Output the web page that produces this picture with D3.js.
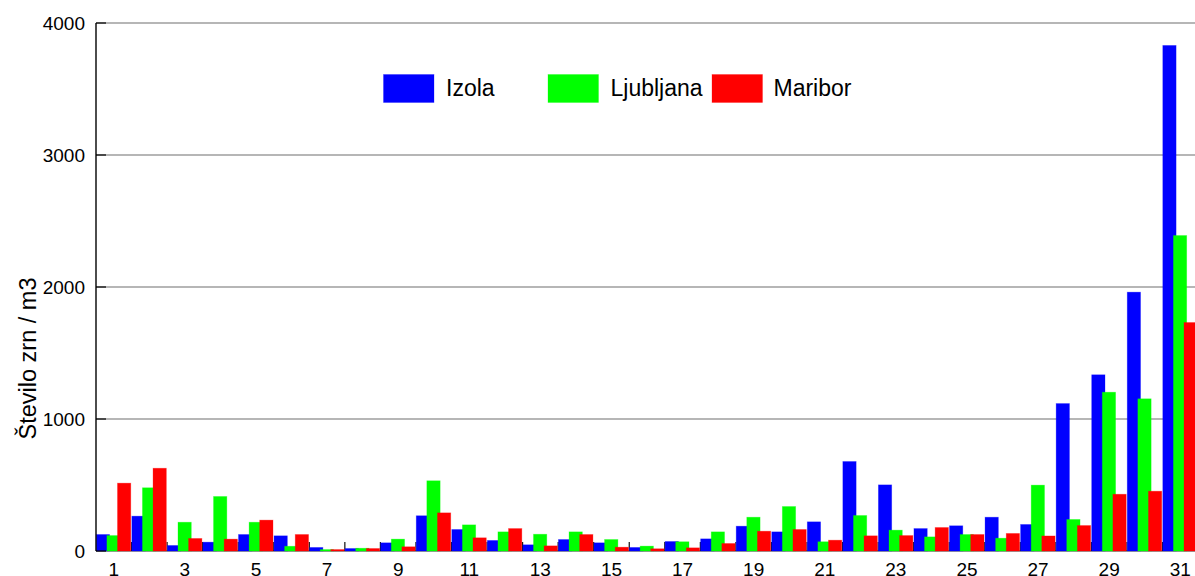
<!DOCTYPE html>
<html>
<head>
<meta charset="utf-8">
<script src="https://cdn.jsdelivr.net/npm/d3@7"></script>
<style>
  html, body { margin: 0; padding: 0; background: #fff; overflow: hidden; }
  svg { display: block; font-family: "Liberation Sans", Arial, sans-serif; }
</style>
</head>
<body>
<svg id="chart" width="1195" height="576"></svg>
<script>
const days = d3.range(1, 32);
const seriesNames = ["Izola", "Ljubljana", "Maribor"];
const seriesColors = ["#0000ff", "#00ff00", "#ff0000"];
const izola = [125, 264, 42, 67, 125, 115, 27, 19, 62, 267, 163, 80, 47, 87, 62, 27, 72, 92, 188, 145, 221, 678, 501, 170, 191, 256, 201, 1117, 1335, 1961, 3830];
const ljubljana = [117, 479, 218, 413, 218, 36, 11, 21, 90, 532, 198, 145, 127, 145, 87, 37, 70, 145, 256, 337, 70, 269, 158, 107, 125, 97, 499, 239, 1203, 1153, 2390];
const maribor = [514, 627, 95, 90, 234, 125, 11, 19, 32, 289, 100, 170, 39, 125, 29, 17, 24, 57, 150, 163, 82, 115, 117, 178, 125, 133, 114, 193, 430, 453, 1731];
const yTicks = [0, 1000, 2000, 3000, 4000];
const xTickLabels = days.filter(d => d % 2 === 1);
const yLabel = "Število zrn / m3";

const series = [izola, ljubljana, maribor];

const svg = d3.select("#chart");
const mLeft = 96, mTop = 23, mBottom = 551;
const slot = 35.55;
const mRight = mLeft + slot * days.length;

const x = d3.scaleBand().domain(days).range([mLeft, mRight]).padding(0);
const y = d3.scaleLinear().domain([0, 4000]).range([mBottom, mTop]);

// gridlines
svg.append("g").selectAll("line").data(yTicks.filter(t => t > 0)).join("line")
  .attr("x1", mLeft).attr("x2", 1195)
  .attr("y1", d => y(d)).attr("y2", d => y(d))
  .attr("stroke", "#6e6e6e").attr("stroke-width", 1.2);

// x baseline + ticks (behind bars)
const xAxisG = svg.append("g").attr("transform", `translate(0,${mBottom})`);
xAxisG.append("line").attr("x1", mLeft).attr("x2", 1195).attr("y1", 0).attr("y2", 0)
  .attr("stroke", "#333").attr("stroke-width", 1.2);
xAxisG.selectAll("line.tk").data(days.slice(1)).join("line").attr("class", "tk")
  .attr("x1", d => x(d)).attr("x2", d => x(d))
  .attr("y1", 0).attr("y2", -9)
  .attr("stroke", "#111").attr("stroke-width", 1.2);

// bars
const bw = x.bandwidth();
const step = bw * 0.298, barW = bw * 0.374;
const groups = svg.append("g").selectAll("g").data(days).join("g");
seriesNames.forEach((name, si) => {
  groups.append("rect")
    .attr("x", (d, i) => x(d) + 0.3 + si * step)
    .attr("width", barW)
    .attr("y", (d, i) => y(series[si][i]))
    .attr("height", (d, i) => mBottom - y(series[si][i]))
    .attr("fill", seriesColors[si])
    .attr("stroke", seriesColors[si]).attr("stroke-opacity", 0.35).attr("stroke-width", 0.8);
});

// y axis
svg.append("line").attr("x1", mLeft).attr("x2", mLeft).attr("y1", mTop).attr("y2", mBottom)
  .attr("stroke", "#000").attr("stroke-width", 1.4);
const yAxisG = svg.append("g");
yAxisG.selectAll("line").data(yTicks).join("line")
  .attr("x1", mLeft).attr("x2", mLeft + 10)
  .attr("y1", d => y(d)).attr("y2", d => y(d))
  .attr("stroke", "#000").attr("stroke-width", 1.2);
yAxisG.selectAll("text").data(yTicks).join("text")
  .attr("x", 85).attr("y", d => y(d)).attr("dy", "0.36em")
  .attr("text-anchor", "end").attr("font-size", 19).attr("fill", "#000")
  .text(d => d);

// x tick labels
svg.append("g").selectAll("text").data(xTickLabels).join("text")
  .attr("x", d => x(d) + bw / 2).attr("y", 575.5)
  .attr("text-anchor", "middle").attr("font-size", 19).attr("fill", "#000")
  .text(d => d);

// y label
svg.append("text")
  .attr("transform", "translate(35.5,358.5) rotate(-90)")
  .attr("text-anchor", "middle").attr("font-size", 23.5).attr("fill", "#000")
  .text(yLabel);

// legend
const legendX = [383.5, 548, 712];
const leg = svg.append("g").selectAll("g").data(seriesNames).join("g")
  .attr("transform", (d, i) => `translate(${legendX[i]},74.5)`);
leg.append("rect").attr("width", 50.5).attr("height", 28)
  .attr("fill", (d, i) => seriesColors[i])
  .attr("stroke", (d, i) => seriesColors[i]).attr("stroke-opacity", 0.35).attr("stroke-width", 0.8);
leg.append("text").attr("x", (d, i) => i === 2 ? 61.5 : 62.5).attr("y", 21.5)
  .attr("font-size", 23).attr("fill", "#000").text(d => d);
</script>
</body>
</html>
